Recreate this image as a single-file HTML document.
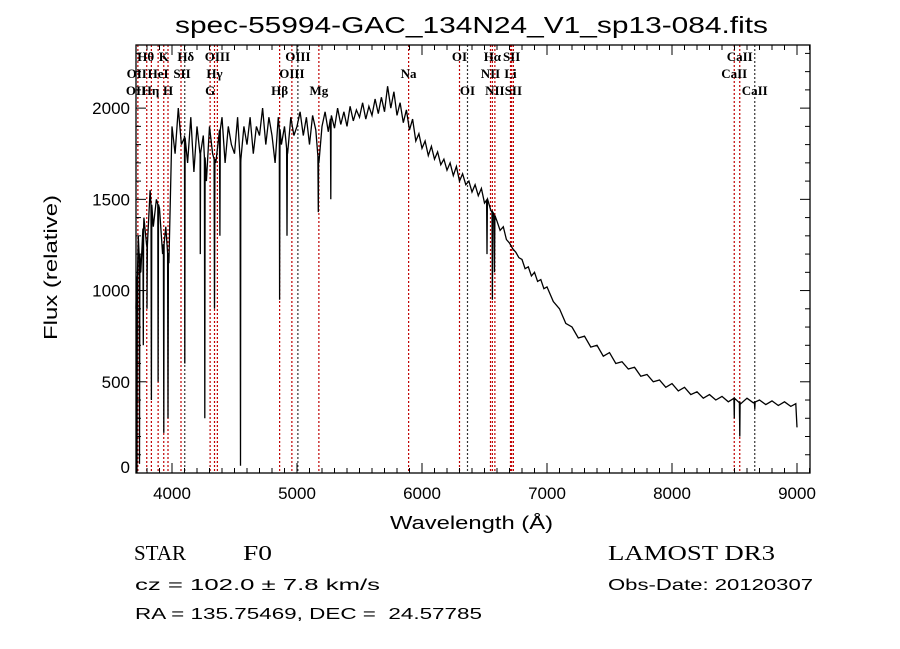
<!DOCTYPE html>
<html><head><meta charset="utf-8"><style>
body{margin:0;background:#fff}
svg{display:block}
text{font-family:"Liberation Sans",sans-serif}
</style></head><body>
<svg id="chart" width="900" height="649" xmlns="http://www.w3.org/2000/svg">
<rect width="900" height="649" fill="#fff"/>
<text x="175" y="33" font-size="23" textLength="593" lengthAdjust="spacingAndGlyphs">spec-55994-GAC_134N24_V1_sp13-084.fits</text>
<g id="lines"></g>
<g id="spec"></g>
<g id="axes"></g>
<text x="390" y="529" font-size="18" textLength="163" lengthAdjust="spacingAndGlyphs">Wavelength (Å)</text>
<text transform="translate(57,340) rotate(-90)" font-size="18" textLength="145" lengthAdjust="spacingAndGlyphs">Flux (relative)</text>
<text x="134" y="560" font-size="21" textLength="52" lengthAdjust="spacingAndGlyphs" style="font-family:'Liberation Serif',serif">STAR</text>
<text x="243" y="560" font-size="21" textLength="29" lengthAdjust="spacingAndGlyphs" style="font-family:'Liberation Serif',serif">F0</text>
<text x="608" y="560" font-size="21" textLength="167" lengthAdjust="spacingAndGlyphs" style="font-family:'Liberation Serif',serif">LAMOST DR3</text>
<text x="135" y="590" font-size="16" textLength="245" lengthAdjust="spacingAndGlyphs">cz = 102.0 ± 7.8 km/s</text>
<text x="608" y="590" font-size="16" textLength="205" lengthAdjust="spacingAndGlyphs">Obs-Date: 20120307</text>
<text x="135" y="619" font-size="16" textLength="347" lengthAdjust="spacingAndGlyphs" xml:space="preserve">RA = 135.75469, DEC =  24.57785</text>
</svg>
<script>
const wl=[3712,3730,3750,3775,3800,3825,3850,3875,3900,3925,3950,3975,4000,4025,4050,4075,4100,4125,4150,4175,4200,4225,4250,4275,4300,4325,4350,4375,4400,4425,4450,4475,4500,4525,4550,4575,4600,4625,4650,4675,4700,4725,4750,4775,4800,4825,4850,4875,4900,4925,4950,4975,5000,5025,5050,5075,5100,5125,5150,5175,5200,5225,5250,5275,5300,5325,5350,5375,5400,5425,5450,5475,5500,5525,5550,5575,5600,5625,5650,5675,5700,5725,5750,5775,5800,5825,5850,5875,5900,5925,5950,5975,6000,6025,6050,6075,6100,6125,6150,6175,6200,6225,6250,6275,6300,6325,6350,6375,6400,6425,6450,6475,6500,6525,6550,6575,6600,6625,6650,6675,6700,6725,6750,6775,6800,6825,6850,6875,6900,6925,6950,6975,7000,7050,7100,7150,7200,7250,7300,7350,7400,7450,7500,7550,7600,7650,7700,7750,7800,7850,7900,7950,8000,8050,8100,8150,8200,8250,8300,8350,8400,8450,8500,8550,8600,8650,8700,8750,8800,8850,8900,8950,8990,9000];
const flux=[900,1300,1100,1400,1250,1550,1350,1500,1450,1200,1350,1150,1900,1750,2000,1800,1850,1700,1950,1650,1900,1750,1850,1600,1900,1750,1700,1850,1950,1700,1900,1800,1750,1950,1700,1900,1800,1950,1750,1900,1850,2000,1800,1950,1850,1700,1950,1800,1900,1750,1950,1850,1900,1980,1850,1950,1800,1960,1880,1700,1900,1980,1870,1960,1890,2000,1910,1980,1900,2010,1930,1990,1950,2030,1940,2010,1960,2050,1970,2060,1980,2120,2000,2090,1960,2030,1920,1990,1880,1940,1820,1860,1780,1820,1740,1790,1720,1760,1690,1720,1660,1700,1630,1680,1600,1640,1580,1600,1540,1580,1520,1560,1480,1500,1440,1420,1380,1330,1350,1280,1260,1230,1210,1180,1170,1120,1130,1080,1100,1050,1060,1010,1020,940,900,820,800,740,750,690,700,640,660,600,610,570,580,530,540,500,510,470,490,450,470,430,445,410,430,400,420,390,410,380,410,385,400,375,395,370,390,365,380,250];
const dipWl=[3720,3740,3770,3800,3835,3889,3934,3968,4102,4226,4262,4340,4383,4548,4861,4920,5170,5270,6520,6563,6580,8498,8542,8662];
const dipFlux=[0,50,700,900,400,500,220,300,600,1200,300,900,1300,40,950,1300,1430,1500,1200,950,1100,300,200,350];
const lineWl=[3727,3798,3835,3889,3934,3968,4072,4102,4305,4340,4363,4861,4959,5007,5175,5893,6300,6364,6548,6563,6583,6708,6717,6731,8498,8542,8662];
const lineColor=["r","r","r","r","r","r","r","k","r","r","r","r","r","k","r","r","r","k","r","r","r","r","r","r","r","r","k"];
const lblText=["OII","OII","Hθ","Hη","HeI","K","H","SII","Hδ","G","Hγ","OIII","Hβ","OIII","OIII","Mg","Na","OI","OI","NII","Hα","NII","Li","SII","SII","CaII","CaII","CaII"];
const lblWl=[3718,3712,3790,3828,3889,3934,3968,4080,4110,4305,4340,4363,4861,4959,5007,5175,5893,6300,6364,6548,6563,6583,6708,6717,6731,8498,8542,8662];
const lblRow=[2,3,1,3,2,1,3,2,1,3,2,1,3,2,1,3,2,1,3,2,1,3,2,1,3,2,1,3];
const xTicks=[4000,5000,6000,7000,8000,9000];
const yTicks=[0,500,1000,1500,2000];
const X0=136,X1=810,Y0=45,Y1=473,WMIN=3712,WMAX=9104,FMIN=0,FMAX=2346;
const sx=w=>X0+(w-WMIN)/(WMAX-WMIN)*(X1-X0);
const sy=f=>Y1-(f-FMIN)/(FMAX-FMIN)*(Y1-Y0);
const NS="http://www.w3.org/2000/svg";
function mk(t,a,p){const e=document.createElementNS(NS,t);for(const k in a)e.setAttribute(k,a[k]);p.appendChild(e);return e;}
const G=document.getElementById('lines');
lineWl.forEach((w,i)=>{
 const l=mk('line',{x1:sx(w),x2:sx(w),y1:Y0,y2:Y1,stroke:lineColor[i]=="r"?"#c00000":"#333","stroke-width":1.2,"stroke-dasharray":"2,2"},G);
 
 
});
lblText.forEach((t,i)=>{
 const e=mk('text',{x:sx(lblWl[i]),y:Y0+17*lblRow[i]-1,"font-size":13,"font-weight":"bold","text-anchor":"middle",style:"font-family:'Liberation Serif',serif"},G);
 e.textContent=t;
 
 
});
let pts=wl.map((w,i)=>[w,flux[i]]);
function interp(w){for(let i=1;i<wl.length;i++){if(wl[i]>=w){const t=(w-wl[i-1])/(wl[i]-wl[i-1]);return flux[i-1]+t*(flux[i]-flux[i-1]);}}return flux[flux.length-1];}
dipWl.forEach((w,i)=>{const c=interp(w);pts.push([w-3,c]);pts.push([w,dipFlux[i]]);pts.push([w+3,c]);});
pts.sort((a,b)=>a[0]-b[0]);
const p=mk('polyline',{points:pts.map(q=>sx(q[0]).toFixed(1)+","+sy(q[1]).toFixed(1)).join(" "),fill:"none",stroke:"#000","stroke-width":1.3},document.getElementById('spec'));


const A=document.getElementById('axes');
const fr=mk('rect',{x:X0,y:Y0,width:X1-X0,height:Y1-Y0,fill:"none",stroke:"#000","stroke-width":1.3},A);


for(let w=3800;w<=9100;w+=100){const maj=w%1000==0;const x=sx(w);
 mk('line',{x1:x,x2:x,y1:Y1,y2:Y1-(maj?10:5),stroke:"#000"},A);
 mk('line',{x1:x,x2:x,y1:Y0,y2:Y0+(maj?10:5),stroke:"#000"},A);}
for(let f=0;f<=2300;f+=100){const maj=f%500==0;const y=sy(f);
 mk('line',{x1:X0,x2:X0+(maj?10:5),y1:y,y2:y,stroke:"#000"},A);
 mk('line',{x1:X1,x2:X1-(maj?10:5),y1:y,y2:y,stroke:"#000"},A);}
xTicks.forEach(w=>{const t=mk('text',{x:sx(w),y:Y1+26,"font-size":17,"text-anchor":"middle"},A);t.textContent=w;
 
 });
yTicks.forEach(f=>{const t=mk('text',{x:X0-6,y:sy(f)+(f==0?0:6),"font-size":17,"text-anchor":"end"},A);t.textContent=f;
 
 });
</script>
</body></html>
